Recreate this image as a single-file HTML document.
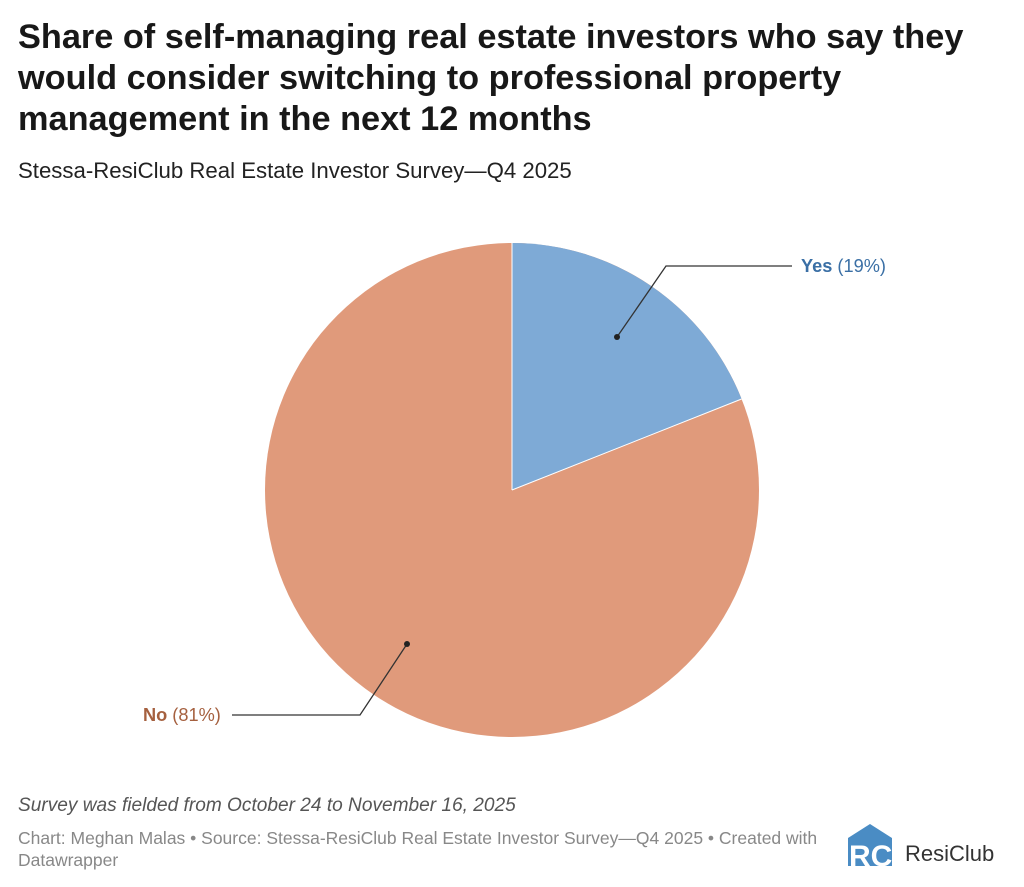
<!DOCTYPE html>
<html><head><meta charset="utf-8"><style>
body{margin:0;width:1024px;height:887px;background:#fff;font-family:"Liberation Sans",sans-serif;overflow:hidden;position:relative}
.t{position:absolute;left:18px;top:17px;font-size:34.3px;font-weight:bold;line-height:41px;color:#181818;width:990px}
.s{position:absolute;left:18px;top:158px;font-size:22.2px;color:#222}
.n{position:absolute;left:18px;top:795px;font-size:19.1px;font-style:italic;color:#555}
.c{position:absolute;left:18px;top:827px;font-size:17.5px;color:#888;line-height:22px;width:820px}
</style></head><body>
<div class="t">Share of self-managing real estate investors who say they would consider switching to professional property management in the next 12 months</div>
<div class="s">Stessa-ResiClub Real Estate Investor Survey—Q4 2025</div>
<svg width="1024" height="887" style="position:absolute;left:0;top:0">
<circle cx="512" cy="490" r="247" fill="#e09a7b"/>
<path d="M512 490 L512 243 A247 247 0 0 1 741.6 399 Z" fill="#7eaad6"/>
<path d="M512 490 L512 243" stroke="#fff" stroke-width="1"/>
<path d="M512 490 L741.6 399" stroke="#fff" stroke-width="1"/>
<polyline points="617,337 666,266 792,266" fill="none" stroke="#333" stroke-width="1.3"/>
<circle cx="617" cy="337" r="3" fill="#222"/>
<polyline points="407,644 360,715 232,715" fill="none" stroke="#333" stroke-width="1.3"/>
<circle cx="407" cy="644" r="3" fill="#222"/>
<text x="801" y="272" font-size="18.2" fill="#3a6fa5"><tspan font-weight="bold">Yes</tspan> (19%)</text>
<text x="143" y="721" font-size="18.2" fill="#a5603f"><tspan font-weight="bold">No</tspan> (81%)</text>
<path d="M848 838 L870 824 L892 838 L892 866 L848 866 Z" fill="#4a8cc4"/>
<text x="849" y="866" font-size="30" font-weight="bold" fill="#fff" font-family="Liberation Sans">RC</text>
<text x="905" y="861" font-size="22" fill="#333">ResiClub</text>
</svg>
<div class="n">Survey was fielded from October 24 to November 16, 2025</div>
<div class="c">Chart: Meghan Malas • Source: Stessa-ResiClub Real Estate Investor Survey—Q4 2025 • Created with Datawrapper</div>
</body></html>
